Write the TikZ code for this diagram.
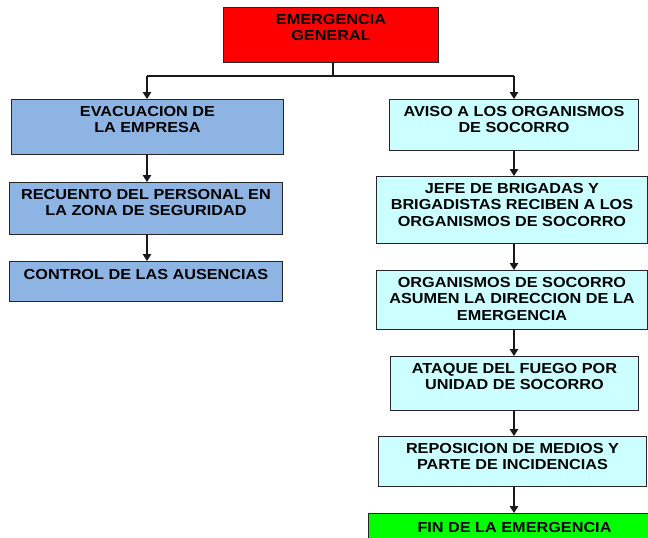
\documentclass[tikz,border=0pt]{standalone}
\usepackage{fontspec}
\setmainfont{Liberation Sans}[FakeStretch=1.12]
\usetikzlibrary{arrows.meta,calc}
\definecolor{redbox}{HTML}{FF0000}
\definecolor{bluebox}{HTML}{8EB4E3}
\definecolor{cyanbox}{HTML}{CCFFFF}
\definecolor{greenbox}{HTML}{00FF00}
\newcommand\tb[4][6.8pt]{\parbox[c][#3][t]{#2}{\centering\vspace*{#1}#4}}
\tikzset{
  bx/.style={draw=black!85, line width=1pt, inner sep=0pt, anchor=north west,
    font=\fontsize{14.5}{16.5}\selectfont\bfseries},
  conn/.style={line width=1.4pt, draw=black!90},
  arr/.style={conn, -{Triangle[width=8.5pt,length=7pt]}}
}
\begin{document}
\begin{tikzpicture}[x=1pt,y=-1pt]
\useasboundingbox (0,0) rectangle (648,538);
\clip (0,0) rectangle (648,538);
% top
\node[bx, fill=redbox] (top) at (223,6.7) {\tb{215pt}{55pt}{EMERGENCIA\\GENERAL}};
% left column
\node[bx, fill=bluebox] (l1) at (11,99) {\tb{272pt}{55pt}{EVACUACION DE\\LA EMPRESA}};
\node[bx, fill=bluebox] (l2) at (9,182) {\tb{273pt}{52pt}{RECUENTO DEL PERSONAL EN\\LA ZONA DE SEGURIDAD}};
\node[bx, fill=bluebox] (l3) at (9,261) {\tb[8pt]{273pt}{40pt}{CONTROL DE LAS AUSENCIAS}};
% right column
\node[bx, fill=cyanbox] (r1) at (389,99) {\tb{249pt}{51pt}{AVISO A LOS ORGANISMOS\\DE SOCORRO}};
\node[bx, fill=cyanbox] (r2) at (376,176) {\tb{271pt}{67pt}{JEFE DE BRIGADAS Y\\BRIGADISTAS RECIBEN A LOS\\ORGANISMOS DE SOCORRO}};
\node[bx, fill=cyanbox] (r3) at (376,270) {\tb{271pt}{59pt}{ORGANISMOS DE SOCORRO\\ASUMEN LA DIRECCION DE LA\\EMERGENCIA}};
\node[bx, fill=cyanbox] (r4) at (390,356) {\tb{248pt}{54pt}{ATAQUE DEL FUEGO POR\\UNIDAD DE SOCORRO}};
\node[bx, fill=cyanbox] (r5) at (378,436) {\tb{268pt}{50pt}{REPOSICION DE MEDIOS Y\\PARTE DE INCIDENCIAS}};
\node[bx, fill=greenbox] (fin) at (368,513) {\tb[9pt]{292pt}{40pt}{FIN DE LA EMERGENCIA}};
% connectors
\coordinate (j) at (333,76);
\coordinate (jl) at (147,76);
\coordinate (jr) at (514,76);
\draw[conn] (top.south -| j) -- (j);
\draw[conn] (jl) -- (jr);
\draw[arr] (jl) -- (jl |- l1.north);
\draw[arr] (jr) -- (jr |- r1.north);
\draw[arr] (l1.south -| jl) -- (l2.north -| jl);
\draw[arr] (l2.south -| jl) -- (l3.north -| jl);
\draw[arr] (r1.south -| jr) -- (r2.north -| jr);
\draw[arr] (r2.south -| jr) -- (r3.north -| jr);
\draw[arr] (r3.south -| jr) -- (r4.north -| jr);
\draw[arr] (r4.south -| jr) -- (r5.north -| jr);
\draw[arr] (r5.south -| jr) -- (fin.north -| jr);
\end{tikzpicture}
\end{document}
